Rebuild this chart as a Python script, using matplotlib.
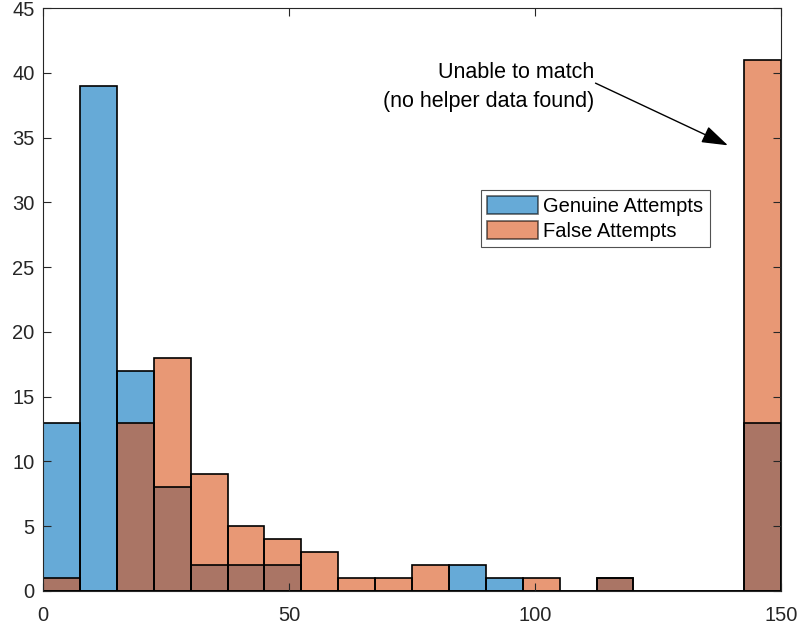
import numpy as np
import matplotlib
matplotlib.use("Agg")
import matplotlib.pyplot as plt

plt.rcParams['font.family'] = ['Liberation Sans', 'DejaVu Sans']

bin_edges = np.arange(0, 150.01, 7.5)
genuine_counts = [13, 39, 17, 8, 2, 2, 2, 0, 0, 0, 0, 2, 1, 0, 0, 1, 0, 0, 0, 13]
false_counts = [1, 0, 13, 18, 9, 5, 4, 3, 1, 1, 2, 0, 0, 1, 0, 1, 0, 0, 0, 41]
labels = ["Genuine Attempts", "False Attempts"]
blue = (0.0, 0.447, 0.741)
orange = (0.85, 0.325, 0.098)
dark = (0.15, 0.15, 0.15)

fig = plt.figure(figsize=(8.0, 6.32), dpi=100)
ax = fig.add_axes([43/800, 1-591/632, 738/800, 583/632])

left = bin_edges[:-1]
w = np.diff(bin_edges)
ax.bar(left, genuine_counts, width=w, align='edge', color=blue, alpha=0.6,
       linewidth=0, label=labels[0])
ax.bar(left, false_counts, width=w, align='edge', color=orange, alpha=0.6,
       linewidth=0, label=labels[1])
ax.bar(left, genuine_counts, width=w, align='edge', fill=False,
       edgecolor='black', linewidth=1.2)
ax.bar(left, false_counts, width=w, align='edge', fill=False,
       edgecolor='black', linewidth=1.2)

ax.set_xlim(0, 150)
ax.set_ylim(0, 45)
ax.set_xticks([0, 50, 100, 150])
ax.set_yticks(np.arange(0, 46, 5))
ax.tick_params(direction='in', labelsize=14.5, colors=dark, length=5.5, width=0.8,
               top=True, right=True, labeltop=False, labelright=False)
ax.tick_params(axis='x', pad=11)
ax.tick_params(axis='y', pad=6)
for s in ax.spines.values():
    s.set_color(dark)
    s.set_linewidth(0.8)

ax.text(112.0, 38.9, "Unable to match\n(no helper data found)", ha='right',
        va='center', fontsize=15.5, multialignment='right', linespacing=1.45,
        color='black')
ax.annotate("", xy=(139.2, 34.4), xytext=(112.3, 39.2),
            arrowprops=dict(arrowstyle='-|>,head_length=1.35,head_width=0.45',
                            mutation_scale=12, color='black', lw=1.0,
                            shrinkA=0, shrinkB=0))

leg = ax.legend(loc='upper left', bbox_to_anchor=(438/738, 401/583), fontsize=14.5,
                frameon=True, fancybox=False, edgecolor=dark,
                borderpad=0.3, handlelength=2.55, handleheight=1.0,
                handletextpad=0.25, labelspacing=0.25, borderaxespad=0)
leg.get_frame().set_linewidth(0.8)
for h in leg.legend_handles:
    h.set_alpha(0.6)
    h.set_edgecolor('black')
    h.set_linewidth(1.2)

fig.savefig("out.png", dpi=100)
